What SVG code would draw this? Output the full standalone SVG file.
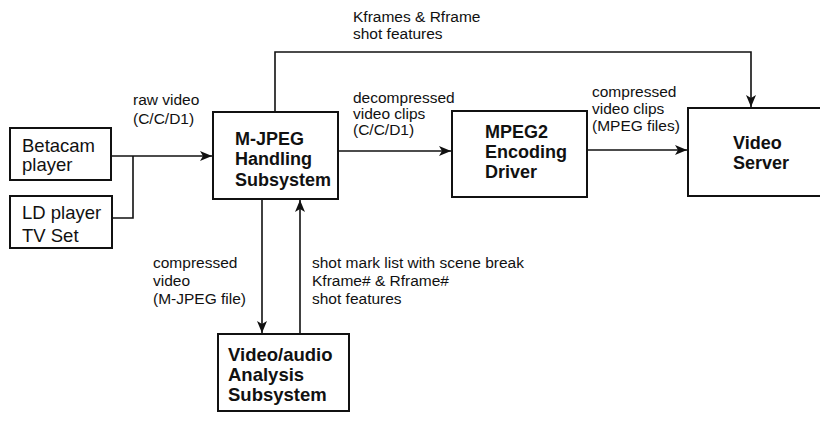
<svg xmlns="http://www.w3.org/2000/svg" width="820" height="422" viewBox="0 0 820 422">
  <style>
    .box { fill: #fff; stroke: #111; stroke-width: 2; }
    .src { font-family: "Liberation Sans", Arial, sans-serif; font-size: 18.5px; fill: #111; }
    .title { font-family: "Liberation Sans", Arial, sans-serif; font-size: 18px; font-weight: bold; fill: #111; }
    .big { font-size: 18.5px; }
    .lbl { font-family: "Liberation Sans", Arial, sans-serif; font-size: 15.5px; fill: #111; }
    .wire { fill: none; stroke: #111; stroke-width: 1.6; }
  </style>
  <defs>
    <marker id="arrow" viewBox="0 0 12 10" refX="12" refY="5" markerWidth="12" markerHeight="10" markerUnits="userSpaceOnUse" orient="auto">
      <path d="M0,0 L12,5 L0,10 L3,5 Z" fill="#111"/>
    </marker>
  </defs>
  <rect width="820" height="422" fill="#fff"/>

  <g id="connectors">
    <path class="wire" d="M111,156 H212" marker-end="url(#arrow)"/>
    <path class="wire" d="M112,218 H133 V156"/>
    <path class="wire" d="M338,151 H451" marker-end="url(#arrow)"/>
    <path class="wire" d="M587,150 H687" marker-end="url(#arrow)"/>
    <path class="wire" d="M275,112 V52 H751 V107" marker-end="url(#arrow)"/>
    <path class="wire" d="M262,199 V333" marker-end="url(#arrow)"/>
    <path class="wire" d="M300,334 V200" marker-end="url(#arrow)"/>
  </g>

  <g id="labels">
    <text class="lbl" x="133" y="105">raw video</text>
    <text class="lbl" x="133" y="124">(C/C/D1)</text>
    <text class="lbl" x="353" y="22">Kframes &amp; Rframe</text>
    <text class="lbl" x="353" y="39">shot features</text>
    <text class="lbl" x="353" y="103">decompressed</text>
    <text class="lbl" x="353" y="119">video clips</text>
    <text class="lbl" x="353" y="135">(C/C/D1)</text>
    <text class="lbl" x="592" y="97">compressed</text>
    <text class="lbl" x="592" y="114">video clips</text>
    <text class="lbl" x="592" y="131">(MPEG files)</text>
    <text class="lbl" x="153" y="268">compressed</text>
    <text class="lbl" x="153" y="286">video</text>
    <text class="lbl" x="153" y="304">(M-JPEG file)</text>
    <text class="lbl" x="312" y="268">shot mark list with scene break</text>
    <text class="lbl" x="312" y="286">Kframe# &amp; Rframe#</text>
    <text class="lbl" x="312" y="304">shot features</text>
  </g>

  <g id="betacam">
    <rect class="box" x="10" y="128" width="101" height="52"/>
    <text class="src" x="22" y="152">Betacam</text>
    <text class="src" x="22" y="171">player</text>
  </g>

  <g id="ld-player">
    <rect class="box" x="10" y="196" width="102" height="52"/>
    <text class="src" x="22" y="219">LD player</text>
    <text class="src" x="22" y="242">TV Set</text>
  </g>

  <g id="mjpeg">
    <rect class="box" x="213" y="112" width="125" height="87"/>
    <text class="title" x="235" y="145">M-JPEG</text>
    <text class="title" x="235" y="165">Handling</text>
    <text class="title" x="235" y="186">Subsystem</text>
  </g>

  <g id="mpeg2">
    <rect class="box" x="452" y="111" width="135" height="86"/>
    <text class="title" x="485" y="138">MPEG2</text>
    <text class="title" x="485" y="158">Encoding</text>
    <text class="title" x="485" y="178">Driver</text>
  </g>

  <g id="video-server">
    <rect class="box" x="688" y="108" width="140" height="88"/>
    <text class="title" x="733" y="149">Video</text>
    <text class="title" x="733" y="169">Server</text>
  </g>

  <g id="analysis">
    <rect class="box" x="218" y="334" width="131" height="77"/>
    <text class="title big" x="228" y="361">Video/audio</text>
    <text class="title big" x="228" y="381">Analysis</text>
    <text class="title big" x="228" y="401">Subsystem</text>
  </g>
</svg>
